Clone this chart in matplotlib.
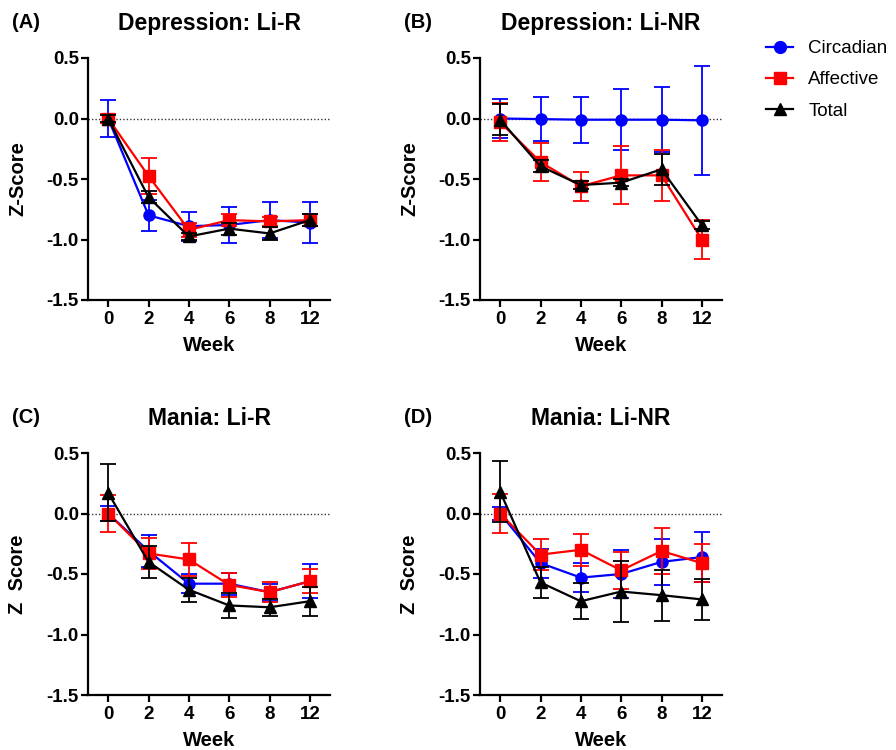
import matplotlib
matplotlib.use("Agg")
import matplotlib.pyplot as plt
from matplotlib.lines import Line2D
import numpy as np

plt.rcParams['font.family'] = ['Liberation Sans', 'DejaVu Sans']
plt.rcParams['axes.unicode_minus'] = False

weeks = ['0', '2', '4', '6', '8', '12']
series_names = ['Circadian', 'Affective', 'Total']
colors = ['#0000ff', '#ff0000', '#000000']
markers = ['o', 's', '^']

titles = ['Depression: Li-R', 'Depression: Li-NR', 'Mania: Li-R', 'Mania: Li-NR']
panel_tags = ['(A)', '(B)', '(C)', '(D)']
ylabels = ['Z-Score', 'Z-Score', 'Z  Score', 'Z  Score']

# (A) Depression: Li-R
dep_r_mean = [[0.0, -0.80, -0.89, -0.88, -0.84, -0.86],
              [0.0, -0.475, -0.92, -0.84, -0.85, -0.84],
              [0.0, -0.65, -0.975, -0.91, -0.95, -0.84]]
dep_r_err = [[0.15, 0.13, 0.12, 0.15, 0.15, 0.17],
             [0.04, 0.15, 0.06, 0.05, 0.04, 0.05],
             [0.03, 0.05, 0.03, 0.05, 0.05, 0.05]]

# (B) Depression: Li-NR
dep_nr_mean = [[0.0, -0.005, -0.01, -0.01, -0.01, -0.015],
               [-0.03, -0.36, -0.56, -0.47, -0.47, -1.0],
               [-0.01, -0.395, -0.55, -0.53, -0.42, -0.88]]
dep_nr_err = [[0.16, 0.18, 0.19, 0.25, 0.27, 0.45],
              [0.155, 0.16, 0.12, 0.24, 0.21, 0.16],
              [0.13, 0.05, 0.03, 0.03, 0.13, 0.03]]

# (C) Mania: Li-R
man_r_mean = [[0.0, -0.31, -0.58, -0.58, -0.65, -0.56],
              [0.0, -0.33, -0.38, -0.59, -0.65, -0.56],
              [0.17, -0.40, -0.63, -0.76, -0.775, -0.725]]
man_r_err = [[0.06, 0.13, 0.08, 0.09, 0.07, 0.14],
             [0.15, 0.13, 0.14, 0.10, 0.08, 0.10],
             [0.235, 0.13, 0.10, 0.10, 0.07, 0.12]]

# (D) Mania: Li-NR
man_nr_mean = [[0.0, -0.41, -0.53, -0.50, -0.40, -0.36],
               [0.0, -0.34, -0.30, -0.47, -0.31, -0.41],
               [0.18, -0.57, -0.725, -0.645, -0.675, -0.71]]
man_nr_err = [[0.05, 0.12, 0.12, 0.20, 0.19, 0.21],
              [0.16, 0.13, 0.13, 0.15, 0.19, 0.16],
              [0.25, 0.13, 0.15, 0.25, 0.21, 0.17]]

means = [dep_r_mean, dep_nr_mean, man_r_mean, man_nr_mean]
errs = [dep_r_err, dep_nr_err, man_r_err, man_nr_err]

fig = plt.figure(figsize=(8.96, 7.5), dpi=100)
W, H = 896., 750.
# axes boxes in pixels: left, top, right, bottom
boxes = [(88, 58, 330, 300), (480, 58, 722, 300),
         (88, 453, 330, 695), (480, 453, 722, 695)]

x = np.arange(len(weeks))
for i in range(4):
    l, t, r, b = boxes[i]
    ax = fig.add_axes([l / W, 1 - b / H, (r - l) / W, (b - t) / H])
    ax.axhline(0, color='#333333', lw=1.0, ls=(0, (1, 1.5)), zorder=1)
    for k in range(3):
        ax.errorbar(x, means[i][k], yerr=errs[i][k], color=colors[k],
                    marker=markers[k], ms=8 if k == 0 else 8.5, lw=1.6,
                    elinewidth=1.3, capsize=6, capthick=1.3, zorder=2 + k)
    ax.set_xlim(-0.5, 5.5)
    ax.set_ylim(-1.5, 0.5)
    ax.set_xticks(x)
    ax.set_xticklabels(weeks)
    ax.set_yticks([0.5, 0.0, -0.5, -1.0, -1.5])
    ax.set_yticklabels(['0.5', '0.0', '-0.5', '-1.0', '-1.5'])
    for s in ['top', 'right']:
        ax.spines[s].set_visible(False)
    for s in ['left', 'bottom']:
        ax.spines[s].set_linewidth(1.6)
    ax.tick_params(width=1.6, length=5, labelsize=13.5)
    ax.tick_params(axis='y', pad=1.5)
    ax.tick_params(axis='x', pad=3)
    for lab in ax.get_xticklabels() + ax.get_yticklabels():
        lab.set_fontweight('bold')
    ax.set_xlabel('Week', fontsize=14.5, fontweight='bold', labelpad=6)
    ax.set_ylabel(ylabels[i], fontsize=14.5, fontweight='bold', labelpad=14)
    ax.set_title(titles[i], fontsize=16.5, fontweight='bold', pad=20)
    fig.text((l - 76) / W, 1 - (t - 36) / H, panel_tags[i], fontsize=14.5,
             fontweight='bold', ha='left', va='center')

handles = [Line2D([], [], color=colors[k], marker=markers[k], ms=8.5, lw=1.6)
           for k in range(3)]
fig.legend(handles, series_names, loc='upper left',
           bbox_to_anchor=(766 / W, 1 - 40 / H), frameon=False, fontsize=13.5,
           handlelength=1.45, handletextpad=0.8, labelspacing=0.75,
           borderpad=0, borderaxespad=0)

fig.savefig('out.png', dpi=100)
